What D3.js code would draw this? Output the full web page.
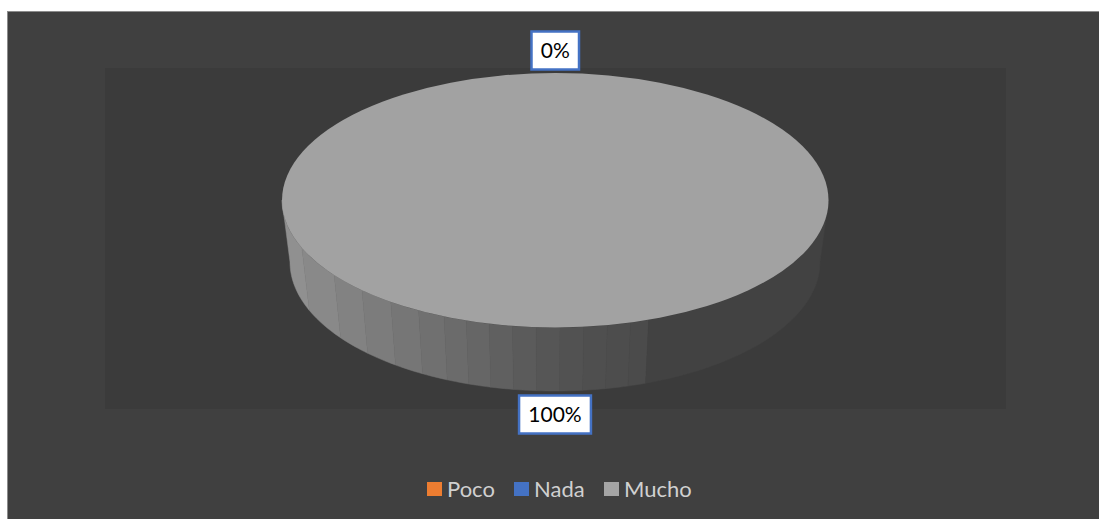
<!DOCTYPE html>
<html>
<head>
<meta charset="utf-8">
<style>
  html, body { margin: 0; padding: 0; background: #ffffff; }
  svg { display: block; }
  text { font-family: Lato, "Open Sans", sans-serif; }
</style>
<script src="https://cdn.jsdelivr.net/npm/d3@7/dist/d3.min.js"></script>
</head>
<body>
<svg id="chart" width="1099" height="519"></svg>
<script>
const categories = ["Poco", "Nada", "Mucho"];
const shares = [0, 0, 100];
const sliceColors = ["#ed7d31", "#4472c4", "#a2a2a2"];
const legendColors = ["#ed7d31", "#4472c4", "#a5a5a5"];
// Facet boundaries of the pie wall, in degrees clockwise from 12 o'clock.
const wallEdges = [270, 248, 234, 225, 217, 210, 204, 199, 194, 189, 184, 179, 174, 169, 164, 160, 90];
const wallShades = ["#909090", "#898989", "#828282", "#7c7c7c", "#767676", "#707070", "#6b6b6b", "#666666",
                    "#606060", "#5b5b5b", "#565656", "#525252", "#4f4f4f", "#4d4d4d", "#4b4b4b", "#424242"];

const svg = d3.select("#chart");
const W = 1099, H = 519;
const frame = { x: 7.5, y: 11.5 };
const plot = { x0: 105, x1: 1006, y0: 68, y1: 409 };

// Chart area and the slightly darker plot area
svg.append("rect").attr("x", frame.x).attr("y", frame.y)
  .attr("width", W - frame.x + 2).attr("height", H - frame.y + 2)
  .attr("fill", "#404040").attr("stroke", "#8c8c8c").attr("stroke-width", 1);
svg.append("rect").attr("x", plot.x0).attr("y", plot.y0)
  .attr("width", plot.x1 - plot.x0).attr("height", plot.y1 - plot.y0)
  .attr("fill", "#3b3b3b");

// Projection of the unit circle onto the top face and the narrower base
const top_ = { x: d3.scaleLinear([-1, 1], [282, 828.5]), y: d3.scaleLinear([-1, 1], [73, 327.5]) };
const base = { x: d3.scaleLinear([-1, 1], [290, 820]), y: d3.scaleLinear([-1, 1], [133, 391]) };
const rad = d => d * Math.PI / 180;
const onRim = (rim, deg) => [rim.x(Math.sin(rad(deg))), rim.y(-Math.cos(rad(deg)))];

const line = d3.line();
const facetPath = (a0, a1) => {
  const n = Math.max(2, Math.ceil(Math.abs(a1 - a0)));
  const degs = d3.range(n + 1).map(i => a0 + (a1 - a0) * i / n);
  const pts = degs.map(d => onRim(top_, d)).concat(degs.slice().reverse().map(d => onRim(base, d)));
  return line(pts) + "Z";
};

// Pie wall, one shaded facet at a time
svg.append("g").selectAll("path")
  .data(d3.pairs(wallEdges))
  .join("path")
  .attr("d", d => facetPath(d[0], d[1]))
  .attr("fill", (d, i) => wallShades[i])
  .attr("stroke", (d, i) => wallShades[i])
  .attr("stroke-width", 0.5);

// Top face: d3.pie slices on a unit circle, flattened by the transform
const pie = d3.pie().sort(null).value(d => d.value);
const slices = pie(categories.map((name, i) => ({ name, value: shares[i], color: sliceColors[i] })));
const arc = d3.arc().innerRadius(0).outerRadius(1);
svg.append("g")
  .attr("transform", `translate(${top_.x(0)},${top_.y(0)}) scale(${top_.x(1) - top_.x(0)},${top_.y(1) - top_.y(0)})`)
  .selectAll("path")
  .data(slices)
  .join("path")
  .attr("d", arc)
  .attr("fill", d => d.data.color);

// Data labels in bordered white boxes, placed past the rim at each slice's mid angle
const total = d3.sum(shares);
const labelFmt = d3.format(".0%");
const seen = new Set();
const labels = slices.map(s => {
  const mid = (s.startAngle + s.endAngle) / 2 * 180 / Math.PI;
  return { text: labelFmt(s.value / total), mid };
}).filter(d => !seen.has(d.text) && seen.add(d.text));

const labelG = svg.append("g").selectAll("g").data(labels).join("g")
  .attr("transform", d => {
    const lower = Math.cos(rad(d.mid)) < 0;
    const p = onRim(lower ? base : top_, d.mid);
    return `translate(${p[0]},${p[1] + (lower ? 23.5 : -22.5)})`;
  });
labelG.append("text")
  .attr("text-anchor", "middle")
  .attr("y", 7.5)
  .attr("font-size", 21)
  .attr("fill", "#000000")
  .text(d => d.text);
labelG.insert("rect", "text").each(function () {
  const w = this.parentNode.querySelector("text").getComputedTextLength() + 18.5;
  d3.select(this).attr("x", -w / 2).attr("y", -19).attr("width", w).attr("height", 38);
}).attr("fill", "#ffffff").attr("stroke", "#4472c4").attr("stroke-width", 2.5);

// Legend
const legendX = d3.scaleOrdinal(categories, [427, 514, 604]);
const legend = svg.append("g").selectAll("g").data(categories).join("g")
  .attr("transform", d => `translate(${legendX(d)},482)`);
legend.append("rect").attr("width", 15).attr("height", 14)
  .attr("fill", (d, i) => legendColors[i]);
legend.append("text").attr("x", 20).attr("y", 14.5)
  .attr("font-size", 22).attr("fill", "#d0d0d0").text(d => d);
</script>
</body>
</html>
